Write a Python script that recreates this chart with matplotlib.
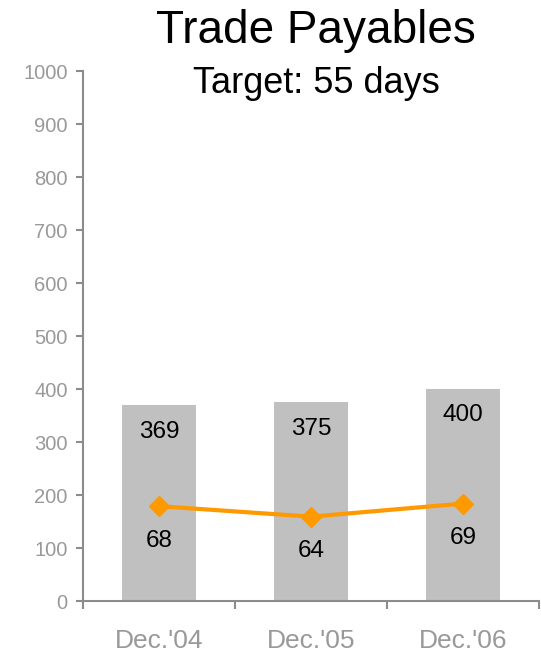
import matplotlib.pyplot as plt
import numpy as np

plt.rcParams['font.family'] = ['Liberation Sans', 'DejaVu Sans']

periods = ["Dec.'04", "Dec.'05", "Dec.'06"]
payables = [369, 375, 400]
days = [68, 64, 69]

fig = plt.figure(figsize=(5.41, 6.52), dpi=100)
ax = fig.add_axes([0.1534, 0.0782, 0.8429, 0.8129])

x = np.arange(len(periods))
ax.bar(x, payables, width=0.49, color='#c0c0c0', zorder=1)
for xi, v in zip(x, payables):
    ax.annotate(str(v), (xi, v), xytext=(0, -19), textcoords='offset points',
                ha='center', va='center', fontsize=17.5, color='black')

ax.set_xlim(-0.5, len(periods) - 0.5)
ax.set_ylim(0, 1000)
ax.set_yticks(np.arange(0, 1001, 100))
ax.set_xticks(x)
ax.set_xticklabels(periods)
ax.set_xticks(np.arange(-0.5, len(periods), 1), minor=True)

grey = '#8c8c8c'
for s in ['top', 'right']:
    ax.spines[s].set_visible(False)
for s in ['left', 'bottom']:
    ax.spines[s].set_color(grey)
    ax.spines[s].set_linewidth(1.5)
ax.tick_params(axis='y', colors=grey, labelcolor='#999999', labelsize=14.5,
               length=5, width=1.5, pad=6)
ax.tick_params(axis='x', which='major', length=0, labelsize=19,
               labelcolor='#999999', pad=20)
ax.tick_params(axis='x', which='minor', length=6, width=1.5, colors=grey)

# days on a hidden secondary scale
ax2 = ax.twinx()
ax2.set_ylim(31.7, 234.6)
ax2.axis('off')
ax2.plot(x, days, color='#ff9900', lw=3, marker='D', ms=10, zorder=3)
for xi, v in zip(x, days):
    ax2.annotate(str(v), (xi, v), xytext=(0, -25), textcoords='offset points',
                 ha='center', va='center', fontsize=17.5, color='black')

fig.text(0.584, 0.934, 'Trade Payables', ha='center', va='baseline', fontsize=33)
fig.text(0.584, 0.857, 'Target: 55 days', ha='center', va='baseline', fontsize=26)

fig.savefig('out.png', dpi=100)
